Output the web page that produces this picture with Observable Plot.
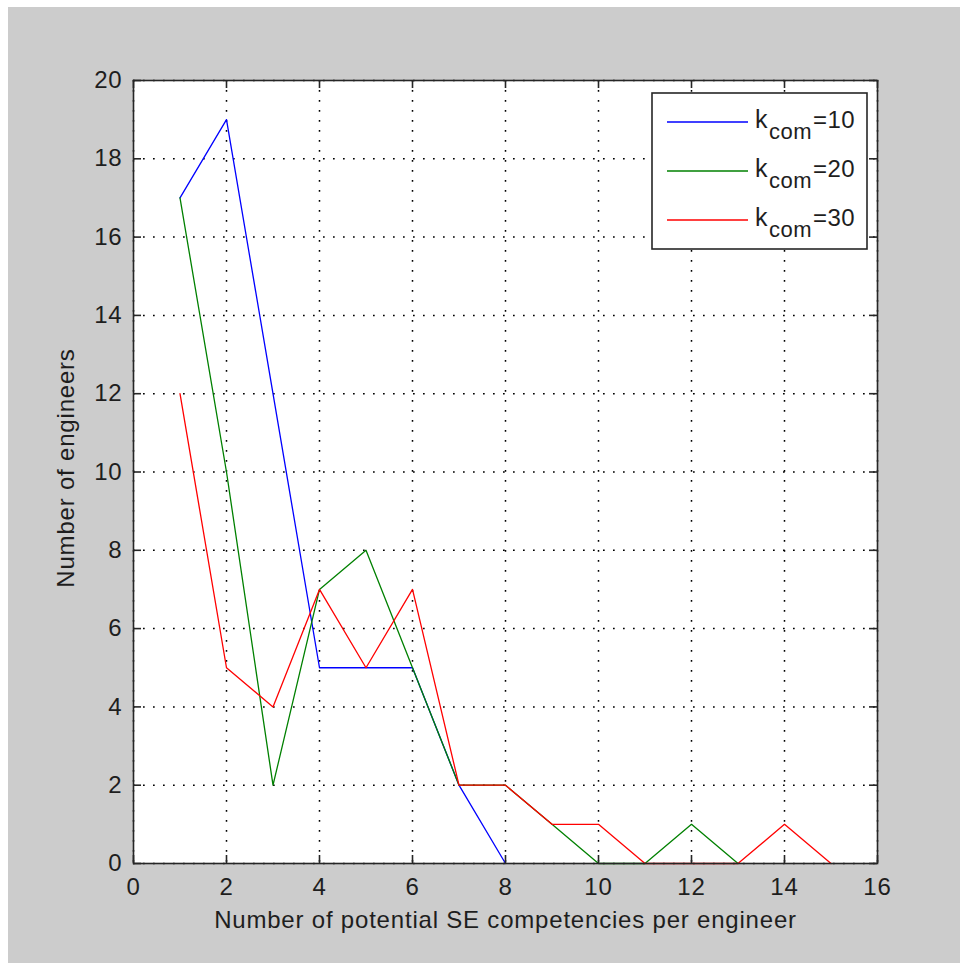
<!DOCTYPE html>
<html><head><meta charset="utf-8">
<script src="https://cdn.jsdelivr.net/npm/d3@7"></script>
<script src="https://cdn.jsdelivr.net/npm/@observablehq/plot@0.6"></script>
<style>
html,body{margin:0;padding:0;background:#fff;overflow:hidden}
#wrap{position:relative;width:960px;height:963px}
#bg{position:absolute;left:8px;top:7px;right:0;bottom:0;background:#cccccc}
#chart{position:absolute;left:0;top:0}
#legend{position:absolute;left:0;top:0;pointer-events:none}
</style></head><body>
<div id="wrap"><div id="bg"></div><div id="chart"></div><svg id="legend" width="960" height="963"></svg></div>
<script>
const xTicks = [0, 2, 4, 6, 8, 10, 12, 14, 16];
const yTicks = [0, 2, 4, 6, 8, 10, 12, 14, 16, 18, 20];
const seriesKeys = ["k10", "k20", "k30"];
const seriesValues = ["=10", "=20", "=30"];
const seriesColors = ["#0000ff", "#008000", "#ff0000"];
const kcom10 = [17, 19, 12, 5, 5, 5, 2, 0];
const kcom20 = [17, 10, 2, 7, 8, 5, 2, 2, 1, 0, 0, 1, 0];
const kcom30 = [12, 5, 4, 7, 5, 7, 2, 2, 1, 1, 0, 0, 0, 1, 0];
const xLabel = "Number of potential SE competencies per engineer";
const yLabel = "Number of engineers";

const W = 960, H = 963;
const mT = 80, mB = 100, mL = 133, mR = 83;
const innerW = W - mL - mR, innerH = H - mT - mB;
const tickLen = 8;
const axisColor = "#262626";
const font = "'Liberation Sans', Arial, Helvetica, sans-serif";

const rows = [];
[kcom10, kcom20, kcom30].forEach((arr, s) => arr.forEach((v, i) => rows.push({series: seriesKeys[s], x: i + 1, y: v})));

const gridStyle = {stroke: "#000", strokeOpacity: 1, strokeWidth: 1.5, strokeDasharray: "1.7,8.3"};

const chart = Plot.plot({
  width: W, height: H,
  marginTop: mT, marginBottom: mB, marginLeft: mL, marginRight: mR,
  style: {background: "none", fontFamily: font, fontSize: "24px", color: "#1e1e1e"},
  x: {domain: [0, 16]},
  y: {domain: [0, 20]},
  color: {domain: seriesKeys, range: seriesColors},
  marks: [
    Plot.frame({fill: "white"}),
    Plot.gridX(xTicks, gridStyle),
    Plot.gridY(yTicks, gridStyle),
    Plot.line(rows, {x: "x", y: "y", z: "series", stroke: "series", strokeWidth: 1.3}),
    Plot.frame({stroke: axisColor, strokeWidth: 1.6}),
    Plot.ruleX(xTicks, {x: d => d, insetTop: innerH - tickLen, stroke: axisColor, strokeWidth: 1.6}),
    Plot.ruleX(xTicks, {x: d => d, insetBottom: innerH - tickLen, stroke: axisColor, strokeWidth: 1.6}),
    Plot.ruleY(yTicks, {y: d => d, insetRight: innerW - tickLen, stroke: axisColor, strokeWidth: 1.6}),
    Plot.ruleY(yTicks, {y: d => d, insetLeft: innerW - tickLen, stroke: axisColor, strokeWidth: 1.6}),
    Plot.axisX({ticks: xTicks, tickSize: 0, tickPadding: 14, label: null, fontSize: 24, fill: "#1e1e1e"}),
    Plot.axisY({ticks: yTicks, tickSize: 0, tickPadding: 11, label: null, fontSize: 24, fill: "#1e1e1e"}),
    Plot.text([xLabel], {text: d => d, frameAnchor: "bottom", dy: 64, lineAnchor: "bottom", fontSize: 24, fill: "#1e1e1e"}),
    Plot.text([yLabel], {text: d => d, frameAnchor: "left", textAnchor: "middle", dx: -60, dy: -4, rotate: -90, lineAnchor: "bottom", fontSize: 24, fill: "#1e1e1e"})
  ]
});
d3.select(chart).selectAll("text").style("letter-spacing", "0.8px");
document.getElementById("chart").appendChild(chart);

// Legend (inside upper right of plot)
const lg = d3.select("#legend");
const box = {x: 652, y: 93, w: 215, h: 156};
lg.append("rect").attr("x", box.x).attr("y", box.y).attr("width", box.w).attr("height", box.h)
  .attr("fill", "white").attr("stroke", axisColor).attr("stroke-width", 1.6);
seriesKeys.forEach((k, i) => {
  const cy = 122 + i * 49;
  lg.append("line").attr("x1", 667).attr("x2", 748).attr("y1", cy).attr("y2", cy)
    .attr("stroke", seriesColors[i]).attr("stroke-width", 1.5);
  const g = lg.append("g").attr("font-family", font).attr("fill", "#1e1e1e").style("letter-spacing", "0.5px");
  g.append("text").attr("x", 755).attr("y", cy + 6).attr("font-size", 25).text("k");
  g.append("text").attr("x", 769).attr("y", cy + 17).attr("font-size", 22).text("com");
  g.append("text").attr("x", 813).attr("y", cy + 6).attr("font-size", 24).text(seriesValues[i]);
});
</script>
</body></html>
